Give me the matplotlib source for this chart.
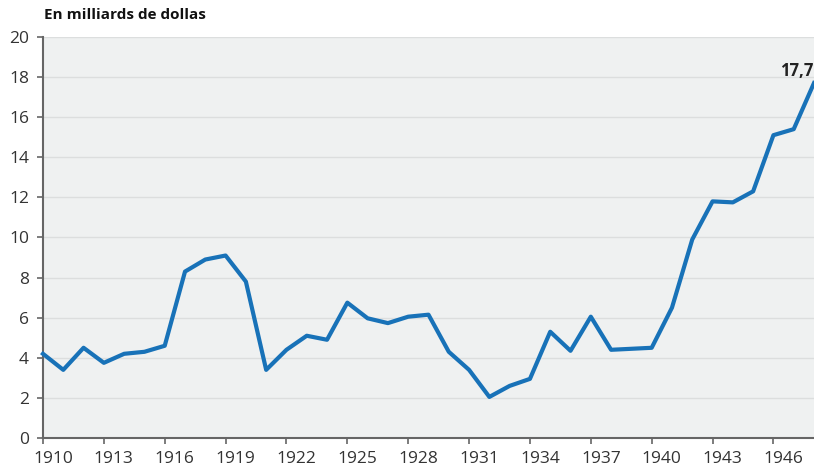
import matplotlib.pyplot as plt
from matplotlib.transforms import ScaledTranslation

# Data
years = list(range(1910, 1949))
values = [4.2, 3.4, 4.5, 3.75, 4.2, 4.3, 4.6, 8.3, 8.9, 9.1,
          7.8, 3.4, 4.4, 5.1, 4.9, 6.75, 5.97, 5.73, 6.05, 6.15,
          4.3, 3.4, 2.05, 2.6, 2.95, 5.3, 4.35, 6.05, 4.4, 4.45,
          4.5, 6.5, 9.9, 11.8, 11.75, 12.3, 15.1, 15.4, 17.7]
tick_years = list(range(1910, 1947, 3))
y_ticks = list(range(0, 21, 2))

plt.rcParams['font.family'] = ['Open Sans', 'DejaVu Sans']

fig = plt.figure(figsize=(8.14, 4.67), dpi=100)
ax = fig.add_axes([0.0528, 0.062, 0.9472, 0.859])
ax.set_facecolor('#eff1f1')

ax.plot(years, values, color='#1872b8', linewidth=3.0, solid_joinstyle='round', zorder=3, clip_on=False)

ax.set_xlim(1910, 1948)
ax.set_ylim(0, 20)
ax.set_xticks(tick_years)
ax.set_yticks(y_ticks)
ax.tick_params(axis='both', colors='#666666', labelcolor='#333333', labelsize=12.5, length=4.5, width=1.2)
ax.tick_params(axis='y', pad=5.5)
ax.tick_params(axis='x', pad=4.5)
ax.grid(axis='y', color='#dcdede', linewidth=1.0)
ax.set_axisbelow(True)

# the year labels sit a little to the right of their ticks
shift = ScaledTranslation(10 / 100, 0, fig.dpi_scale_trans)
for lbl in ax.get_xticklabels():
    lbl.set_transform(lbl.get_transform() + shift)

for side in ['top', 'right']:
    ax.spines[side].set_visible(False)
for side in ['left', 'bottom']:
    ax.spines[side].set_color('#666666')
    ax.spines[side].set_linewidth(1.5)

fig.text(0.054, 0.967, 'En milliards de dollas', fontsize=11, fontweight='bold', color='#111111', va='center')
ax.annotate('17,7', xy=(years[-1], values[-1]), xytext=(-0.5, 5), textcoords='offset points',
            ha='right', va='baseline', fontsize=12, fontweight='bold', color='#222222')

fig.savefig('out.png', dpi=100)
